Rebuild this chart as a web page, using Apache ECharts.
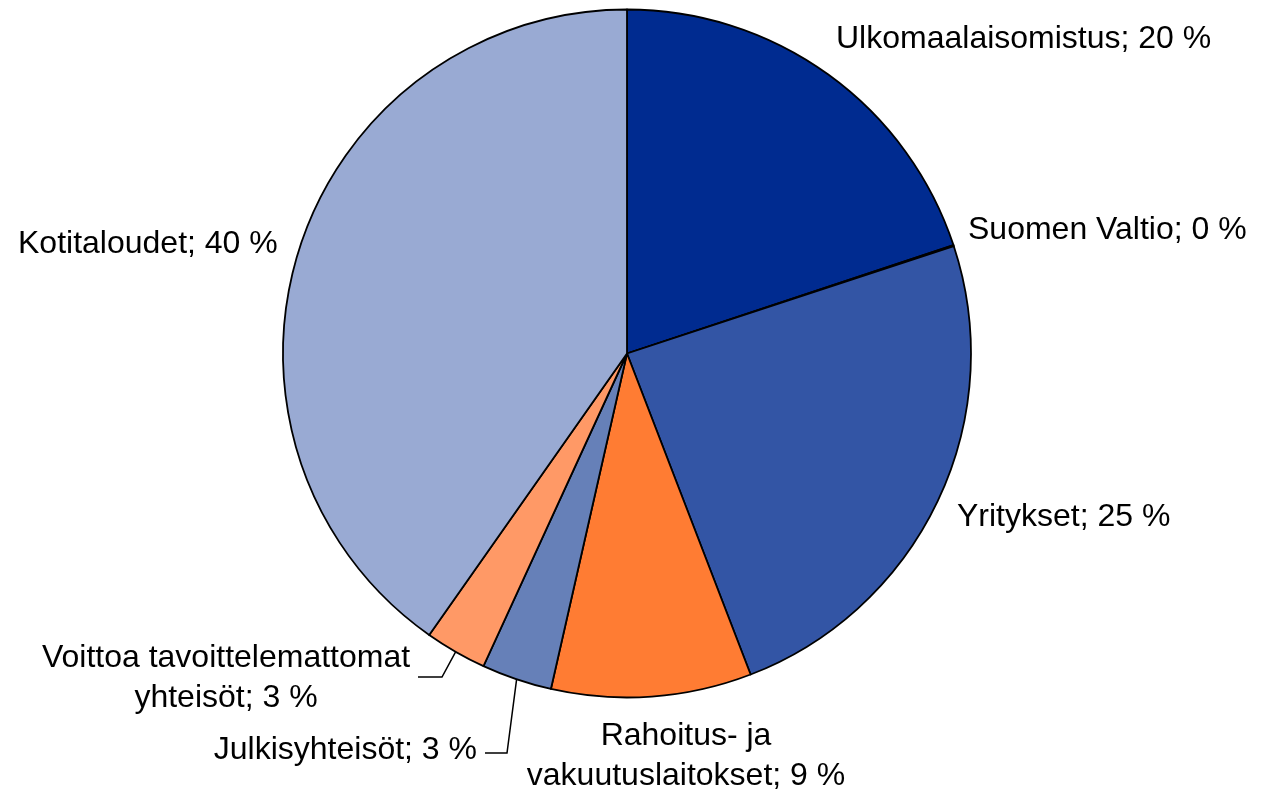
<!DOCTYPE html>
<html>
<head>
<meta charset="utf-8">
<script src="https://cdn.jsdelivr.net/npm/echarts@6/dist/echarts.min.js"></script>
<style>
  html, body { margin: 0; padding: 0; background: #fff; }
  #chart { width: 1263px; height: 796px; }
</style>
</head>
<body>
<div id="chart"></div>
<script>
    // omistajaryhmat, osuudet (%) ja kuvassa naytetyt pyoristetyt prosentit
    var names = [
        'Ulkomaalaisomistus',
        'Suomen Valtio',
        'Yritykset',
        'Rahoitus- ja\nvakuutuslaitokset',
        'Julkisyhteisöt',
        'Voittoa tavoittelemattomat\nyhteisöt',
        'Kotitaloudet'
    ];
    var shares = [19.9, 0.05, 24.2, 9.4, 3.3, 2.9, 40.25];
    var pctLabels = [20, 0, 25, 9, 3, 3, 40];
    var colors = ['#002b90', '#1f3f9a', '#3355a5', '#ff7c33', '#6680b8', '#ff9966', '#99aad3'];

    // label placement (text anchor, align, optional leader line elbow/end)
    var labelPos = [
        {x: 836, y: 39, align: 'left'},
        {x: 968, y: 230, align: 'left'},
        {x: 957, y: 517, align: 'left'},
        {x: 686, y: 756, align: 'center'},
        {x: 477, y: 750, align: 'right', line: [[507, 753], [485, 753]]},
        {x: 226, y: 678, align: 'center', line: [[442, 677], [418, 677]]},
        {x: 18, y: 244, align: 'left'}
    ];

    var myChart = echarts.init(document.getElementById('chart'));

    var data = names.map(function (n, i) {
        var item = {
            name: n,
            value: shares[i],
            pct: pctLabels[i],
            itemStyle: {color: colors[i]}
        };
        if (labelPos[i].line) {
            item.labelLine = {show: true};
        }
        return item;
    });

    var option = {
        backgroundColor: '#fff',
        animation: false,
        series: [
            {
                type: 'pie',
                center: [627, 353.5],
                radius: 344,
                startAngle: 90,
                clockwise: true,
                avoidLabelOverlap: false,
                emphasis: {disabled: true},
                itemStyle: {
                    borderColor: '#000',
                    borderWidth: 1.8
                },
                label: {
                    show: true,
                    position: 'outside',
                    color: '#000',
                    fontFamily: 'Liberation Sans, Arial, sans-serif',
                    fontSize: 32,
                    lineHeight: 40,
                    formatter: function (p) {
                        return p.name + '; ' + p.data.pct + ' %';
                    }
                },
                labelLine: {
                    show: false,
                    lineStyle: {color: '#000', width: 1.5}
                },
                labelLayout: function (params) {
                    var lp = labelPos[params.dataIndex];
                    var res = {
                        x: lp.x,
                        y: lp.y,
                        align: lp.align,
                        verticalAlign: 'middle'
                    };
                    if (lp.line && params.labelLinePoints) {
                        res.labelLinePoints = [params.labelLinePoints[0], lp.line[0], lp.line[1]];
                    }
                    return res;
                },
                data: data
            }
        ]
    };

    myChart.setOption(option);
</script>
</body>
</html>
